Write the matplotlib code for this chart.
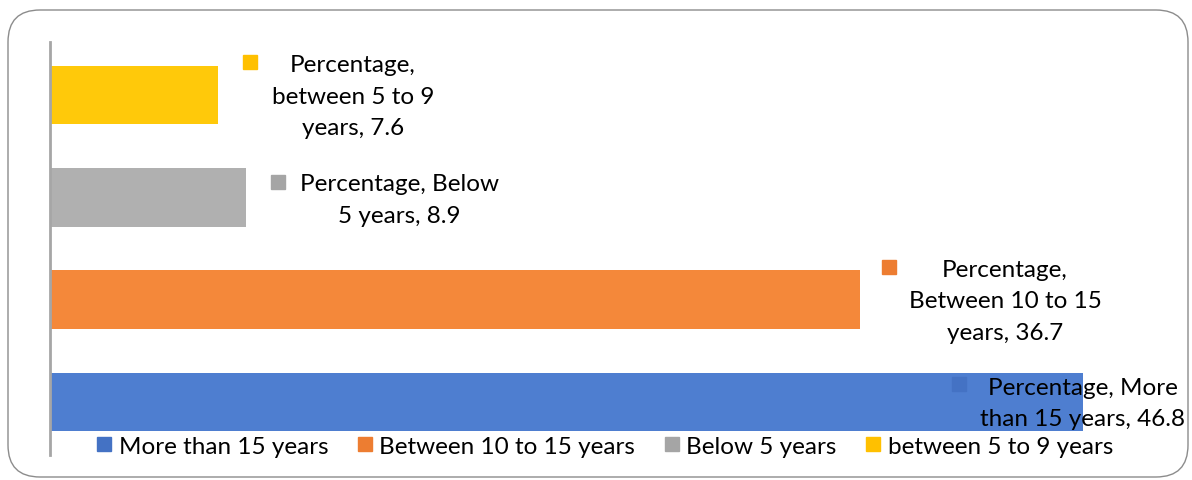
import matplotlib
matplotlib.use("Agg")
import matplotlib.pyplot as plt
import matplotlib.transforms as mtransforms
from matplotlib.patches import FancyBboxPatch
from matplotlib.lines import Line2D

plt.rcParams['font.family'] = ['Lato', 'DejaVu Sans']

categories = ["More than 15 years", "Between 10 to 15 years", "Below 5 years", "between 5 to 9 years"]
values = [46.8, 36.7, 8.9, 7.6]
label_texts = ["Percentage, More\nthan 15 years, 46.8",
               "Percentage,\nBetween 10 to 15\nyears, 36.7",
               "Percentage, Below\n5 years, 8.9",
               "Percentage,\nbetween 5 to 9\nyears, 7.6"]

bar_colors = ["#4E7ED0", "#F4883A", "#B0B0B0", "#FFC90A"]
key_colors = ["#4472C4", "#ED7D31", "#A5A5A5", "#FFC000"]
# pixel offsets relative to bar end (text centre, key marker)
text_off = [(0, -1), (145, -1), (153, -2), (135, -1)]
key_off = [(-124, 18), (29, 33), (32, 15), (32, 33)]

W, H = 1192, 481
fig = plt.figure(figsize=(W / 100, H / 100), dpi=100)

frame = FancyBboxPatch((0.08, 0.03), 11.80, 4.67,
                       boxstyle="round,pad=0,rounding_size=0.32",
                       transform=fig.dpi_scale_trans, facecolor="none",
                       edgecolor="#8C8C8C", linewidth=1.0, zorder=-1)
fig.patches.append(frame)

ax = fig.add_axes([50 / W, (H - 456) / H, 1130 / W, 413 / H])
ax.set_facecolor("none")
for i, (cat, v, c) in enumerate(zip(categories, values, bar_colors)):
    ax.barh(i, v, height=0.57, color=c, label=cat, zorder=2)

ax.set_xlim(0, 1130 / 22.07)
ax.set_ylim(-0.52, 3.52)
for s in ["top", "right", "bottom"]:
    ax.spines[s].set_visible(False)
ax.spines["left"].set_color("#A6A6A6")
ax.spines["left"].set_linewidth(2)
ax.set_xticks([])
ax.set_yticks([])

for i, v in enumerate(values):
    ax.annotate(label_texts[i], xy=(v, i), xytext=text_off[i], textcoords="offset pixels",
                ha="center", va="center", fontsize=17.5, color="#000000",
                linespacing=1.62, zorder=5)
    tr = ax.transData + mtransforms.ScaledTranslation(
        key_off[i][0] / 100, key_off[i][1] / 100, fig.dpi_scale_trans)
    ax.plot([v], [i], marker="s", markersize=10, color=key_colors[i], linestyle="none",
            transform=tr, zorder=4, clip_on=False)

handles = [Line2D([0], [0], marker="s", color=key_colors[i], linestyle="none", markersize=10)
           for i in range(len(categories))]
fig.legend(handles, categories, loc="center", bbox_to_anchor=(605 / W, 1 - 447 / H),
           ncol=4, frameon=False, fontsize=17.5, handlelength=0.6, handletextpad=0.3,
           columnspacing=1.2)

fig.savefig("out.png", dpi=100)
